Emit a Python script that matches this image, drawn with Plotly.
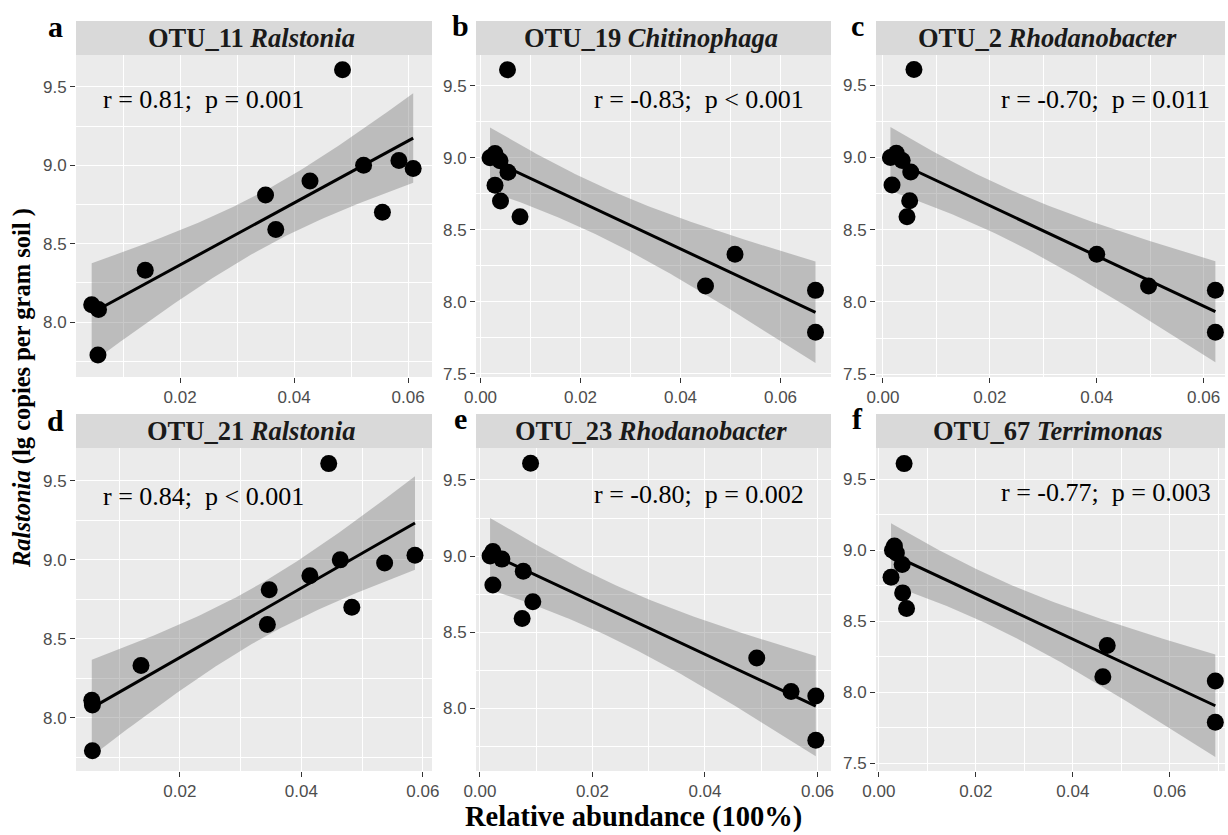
import numpy as np
import plotly.graph_objects as go

W, H = 1228, 835

# Ralstonia abundance (lg copies per gram soil) - same samples in every panel
ralstonia = [8.11, 8.08, 7.79, 8.33, 8.81, 8.59, 8.90, 9.61, 9.00, 8.70, 9.03, 8.98]

# Relative abundance of each OTU for the same samples
otu11 = [0.0045, 0.0057, 0.0056, 0.0139, 0.0350, 0.0368, 0.0428, 0.0485, 0.0522, 0.0555, 0.0584, 0.0609]
otu19 = [0.0450, 0.0670, 0.0670, 0.0509, 0.0029, 0.0079, 0.0055, 0.0054, 0.0019, 0.0040, 0.0029, 0.0039]
otu2 = [0.0497, 0.0622, 0.0622, 0.0400, 0.0017, 0.0045, 0.0052, 0.0058, 0.0014, 0.0050, 0.0025, 0.0036]
otu21 = [0.0055, 0.0056, 0.0056, 0.0136, 0.0347, 0.0344, 0.0414, 0.0445, 0.0464, 0.0483, 0.0587, 0.0537]
otu23 = [0.0553, 0.0597, 0.0597, 0.0492, 0.0023, 0.0075, 0.0077, 0.0090, 0.0018, 0.0094, 0.0023, 0.0039]
otu67 = [0.0462, 0.0694, 0.0694, 0.0471, 0.0025, 0.0057, 0.0048, 0.0052, 0.0028, 0.0049, 0.0032, 0.0036]

panel_letters = ["a", "b", "c", "d", "e", "f"]
otu_ids = ["OTU_11", "OTU_19", "OTU_2", "OTU_21", "OTU_23", "OTU_67"]
genera = ["Ralstonia", "Chitinophaga", "Rhodanobacter", "Ralstonia", "Rhodanobacter", "Terrimonas"]
stat_labels = ["r = 0.81;  p = 0.001", "r = -0.83;  p < 0.001", "r = -0.70;  p = 0.011",
               "r = 0.84;  p < 0.001", "r = -0.80;  p = 0.002", "r = -0.77;  p = 0.003"]
otu_x = [otu11, otu19, otu2, otu21, otu23, otu67]

# layout (window pixels)
col_px = [(76, 432), (476, 831), (876, 1225)]
row_plot_px = [(55, 377), (448, 771)]
row_strip_px = [(21, 55), (414, 448)]
x_ranges = [[0.00175, 0.0642], [-0.0009, 0.0701], [-0.0013, 0.0640],
            [0.0029, 0.0615], [-0.0007, 0.0624], [-0.0006, 0.0714]]
y_ranges = [[7.649, 9.704], [7.479, 9.713], [7.480, 9.710],
            [7.662, 9.709], [7.588, 9.710], [7.446, 9.720]]
stat_pos = [(101, 99), (592, 99), (999, 99), (101, 497), (592, 494), (999, 492)]
letter_pos = [(55, 27), (460, 25), (857, 25), (55, 420), (460, 418), (857, 418)]

def px(x):
    return x / W

def py(y):
    return 1 - y / H

fig = go.Figure()
shapes = []
annotations = []
T_CRIT = 2.228  # t(0.975, df=10)

for i in range(6):
    r, c = divmod(i, 3)
    n = i + 1
    xa = "x" if n == 1 else f"x{n}"
    ya = "y" if n == 1 else f"y{n}"
    x = np.array(otu_x[i])
    y = np.array(ralstonia)

    # linear fit and 95% CI (as geom_smooth(method='lm'))
    b1, b0 = np.polyfit(x, y, 1)
    xs = np.linspace(x.min(), x.max(), 100)
    yhat = b0 + b1 * xs
    resid = y - (b0 + b1 * x)
    s = np.sqrt(np.sum(resid ** 2) / (len(x) - 2))
    se = s * np.sqrt(1 / len(x) + (xs - x.mean()) ** 2 / np.sum((x - x.mean()) ** 2))
    lo, hi = yhat - T_CRIT * se, yhat + T_CRIT * se

    fig.add_trace(go.Scatter(x=np.concatenate([xs, xs[::-1]]), y=np.concatenate([hi, lo[::-1]]),
                             fill="toself", fillcolor="rgba(125,125,125,0.42)", line=dict(width=0),
                             mode="lines", hoverinfo="skip", showlegend=False, xaxis=xa, yaxis=ya))
    fig.add_trace(go.Scatter(x=x, y=y, mode="markers", cliponaxis=False,
                             marker=dict(size=17, color="black", line=dict(width=0)),
                             showlegend=False, xaxis=xa, yaxis=ya))
    fig.add_trace(go.Scatter(x=xs, y=yhat, mode="lines", line=dict(color="black", width=3),
                             showlegend=False, xaxis=xa, yaxis=ya))

    x0, x1 = col_px[c]
    yt, yb = row_plot_px[r]
    axis_common = dict(ticks="outside", ticklen=5, tickwidth=1.3, tickcolor="#333333",
                       showgrid=True, gridcolor="white", gridwidth=1.4, zeroline=False,
                       showline=False, automargin=False,
                       tickfont=dict(family="Liberation Sans", size=17, color="#4D4D4D"))
    fig.layout[("xaxis" if n == 1 else f"xaxis{n}")] = dict(
        domain=[px(x0), px(x1)], anchor=ya, range=x_ranges[i], tick0=0, dtick=0.02,
        tickformat=".2f", minor=dict(dtick=0.01, tick0=0, showgrid=True, gridcolor="white",
                                     gridwidth=0.7, ticks=""), **axis_common)
    fig.layout[("yaxis" if n == 1 else f"yaxis{n}")] = dict(
        domain=[py(yb), py(yt)], anchor=xa, range=y_ranges[i], tick0=0, dtick=0.5,
        tickformat=".1f", minor=dict(dtick=0.25, tick0=0, showgrid=True, gridcolor="white",
                                     gridwidth=0.7, ticks=""), **axis_common)

    st, sb = row_strip_px[r]
    shapes.append(dict(type="rect", xref="paper", yref="paper", x0=px(x0), x1=px(x1),
                       y0=py(sb), y1=py(st), fillcolor="#D9D9D9", line=dict(width=0), layer="below"))
    annotations.append(dict(xref="paper", yref="paper", x=px((x0 + x1) / 2 - 3), y=py((st + sb) / 2),
                            text=f"<b>{otu_ids[i]} <i>{genera[i]}</i></b>", showarrow=False,
                            xanchor="center", yanchor="middle",
                            font=dict(family="Liberation Serif", size=26.5, color="#1A1A1A")))
    sx, sy = stat_pos[i]
    annotations.append(dict(xref="paper", yref="paper", x=px(sx), y=py(sy), text=stat_labels[i],
                            showarrow=False, xanchor="left", yanchor="middle",
                            font=dict(family="Liberation Serif", size=26, color="black")))
    lx, ly = letter_pos[i]
    annotations.append(dict(xref="paper", yref="paper", x=px(lx), y=py(ly), text=f"<b>{panel_letters[i]}</b>",
                            showarrow=False, xanchor="center", yanchor="middle",
                            font=dict(family="Liberation Serif", size=30, color="black")))

annotations.append(dict(xref="paper", yref="paper", x=px(633), y=py(817),
                        text="<b>Relative abundance (100%)</b>", showarrow=False,
                        xanchor="center", yanchor="middle",
                        font=dict(family="Liberation Serif", size=28.5, color="black")))
annotations.append(dict(xref="paper", yref="paper", x=px(22), y=py(388),
                        text="<b><i>Ralstonia</i> (lg copies per gram soil )</b>", showarrow=False,
                        textangle=-90, xanchor="center", yanchor="middle",
                        font=dict(family="Liberation Serif", size=24.5, color="black")))

fig.update_layout(width=W, height=H, margin=dict(l=0, r=0, t=0, b=0),
                  paper_bgcolor="white", plot_bgcolor="#EBEBEB",
                  shapes=shapes, annotations=annotations, showlegend=False)

# remove the default page margin so the figure fills the window exactly
fig.write_html("out.html", config={"displayModeBar": False},
               post_script="document.body.style.margin='0';document.body.style.overflow='hidden';")
